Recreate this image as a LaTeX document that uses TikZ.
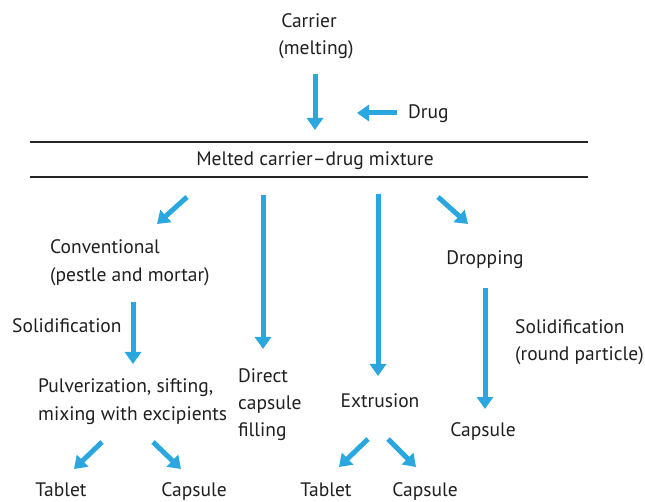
\documentclass[tikz,border=0pt]{standalone}
\usepackage{fontspec}
\setmainfont{PT Sans}
\usetikzlibrary{arrows.meta}
\definecolor{arrblue}{HTML}{2AA7DF}
\begin{document}
\begin{tikzpicture}[x=1pt,y=-1pt,
  lbl/.style={inner sep=0pt,font=\fontsize{19.5}{23}\selectfont,text=black!88},
  arr/.style={draw=arrblue,line width=5pt,-{Triangle[width=16pt,length=12pt]}},
  rule/.style={draw=black!85,line width=1.1pt}]
\useasboundingbox (0,0) rectangle (645,502);
% texts
\node[lbl,anchor=base] (carrier) at (309,28) {Carrier};
\node[lbl,anchor=base] (melting) at (316,55) {(melting)};
\node[lbl,anchor=base west] (drug) at (408,119) {Drug};
\node[lbl,anchor=base] (mix) at (315,166) {Melted carrier--drug mixture};
\node[lbl,anchor=base west] (conv) at (50,254) {Conventional};
\node[lbl,anchor=base west] (pestle) at (50,282) {(pestle and mortar)};
\node[lbl,anchor=base west] (solidL) at (12,333) {Solidification};
\node[lbl,anchor=base west] (pulv) at (38,392) {Pulverization, sifting,};
\node[lbl,anchor=base west] (mixing) at (38,420) {mixing with excipients};
\node[lbl,anchor=base west] (direct) at (238,382) {Direct};
\node[lbl,anchor=base west] (capsD) at (238,409) {capsule};
\node[lbl,anchor=base west] (filling) at (238,436) {filling};
\node[lbl,anchor=base] (extr) at (380,407) {Extrusion};
\node[lbl,anchor=base] (drop) at (485,265) {Dropping};
\node[lbl,anchor=base west] (solidR) at (515,334) {Solidification};
\node[lbl,anchor=base west] (round) at (515,361) {(round particle)};
\node[lbl,anchor=base] (capsR) at (483,436) {Capsule};
\node[lbl,anchor=base] (tab1) at (61,496) {Tablet};
\node[lbl,anchor=base] (cap1) at (194,496) {Capsule};
\node[lbl,anchor=base] (tab2) at (326,496) {Tablet};
\node[lbl,anchor=base] (cap2) at (425,496) {Capsule};
% rules
\coordinate (r1a) at (30,142); \coordinate (r1b) at (588,142);
\coordinate (r2a) at (30,177); \coordinate (r2b) at (588,177);
\draw[rule] (r1a) -- (r1b);
\draw[rule] (r2a) -- (r2b);
% arrow ends
\coordinate (a1s) at (315,74);  \coordinate (a1e) at (315,130);
\coordinate (a2s) at (397,113); \coordinate (a2e) at (357,113);
\coordinate (a3s) at (187,197); \coordinate (a3e) at (157,224);
\coordinate (a4s) at (263,195); \coordinate (a4e) at (263,349);
\coordinate (a5s) at (378,194); \coordinate (a5e) at (378,376);
\coordinate (a6s) at (438,197); \coordinate (a6e) at (468,224);
\coordinate (a7s) at (133,302); \coordinate (a7e) at (133,364);
\coordinate (a8s) at (485,288); \coordinate (a8e) at (485,409);
\coordinate (a9s) at (102,442); \coordinate (a9e) at (74,469);
\coordinate (a10s) at (153,442); \coordinate (a10e) at (181,469);
\coordinate (a11s) at (368,439); \coordinate (a11e) at (339,467);
\coordinate (a12s) at (388,439); \coordinate (a12e) at (416,467);
\foreach \i in {1,...,12} \draw[arr] (a\i s) -- (a\i e);
\end{tikzpicture}
\end{document}
